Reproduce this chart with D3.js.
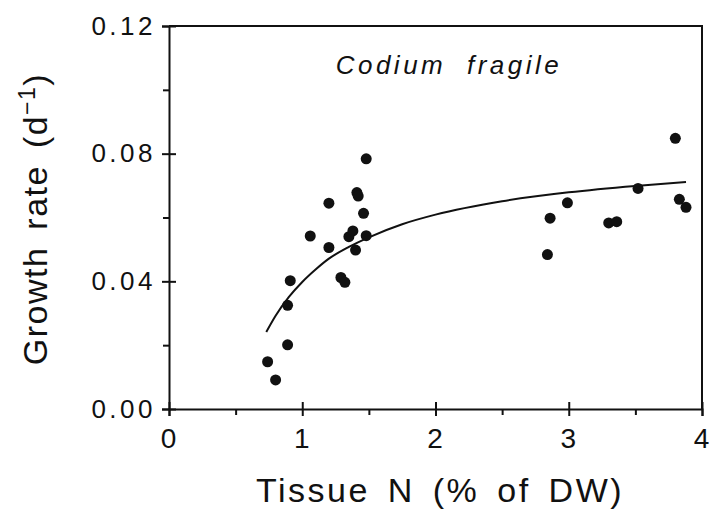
<!DOCTYPE html>
<html>
<head>
<meta charset="utf-8">
<script src="https://cdn.jsdelivr.net/npm/d3@7"></script>
<style>
  body { margin: 0; background: #fff; }
  svg { display: block; font-family: "Liberation Sans", Arial, sans-serif; }
  .axis path, .axis line { stroke: #111; stroke-width: 2; }
  .axis text { fill: #111; }
</style>
</head>
<body>
<svg width="711" height="509"></svg>
<script>
// Observed points: tissue N (% of DW) vs growth rate (d^-1)
const tissueN = [0.74, 0.80, 0.89, 0.89, 0.91, 1.06, 1.20, 1.20, 1.29, 1.32, 1.35, 1.38,
                 1.40, 1.41, 1.42, 1.46, 1.48, 1.48, 2.84, 2.86, 2.99, 3.30, 3.36, 3.52,
                 3.80, 3.83, 3.88];
const growthRate = [0.0148, 0.0091, 0.0201, 0.0325, 0.0402, 0.0542, 0.0645, 0.0506, 0.0412,
                    0.0397, 0.0540, 0.0558, 0.0498, 0.0678, 0.0667, 0.0613, 0.0543, 0.0784,
                    0.0484, 0.0598, 0.0646, 0.0583, 0.0587, 0.0691, 0.0848, 0.0657, 0.0632];

// Fitted curve
const fitN    = [0.73, 0.80, 0.90, 1.00, 1.10, 1.20, 1.35, 1.50, 1.75, 2.00, 2.50, 3.00, 3.50, 3.88];
const fitRate = [0.0241, 0.0292, 0.0351, 0.0398, 0.0437, 0.0471, 0.0508, 0.0538, 0.0579,
                 0.0609, 0.0651, 0.0679, 0.0699, 0.0711];

const xTicks = [0, 1, 2, 3, 4];
const xMinor = [0.5, 1.5, 2.5, 3.5];
const yTicks = [0, 0.04, 0.08, 0.12];
const yMinor = [0.02, 0.06, 0.10];

const plot = { left: 169, right: 702, top: 26, bottom: 409 };

const svg = d3.select("svg");

const x = d3.scaleLinear().domain([0, 4]).range([plot.left, plot.right]);
const y = d3.scaleLinear().domain([0, 0.12]).range([plot.bottom, plot.top]);

// Frame (top and right sides)
svg.append("path")
   .attr("d", `M${plot.left},${plot.top}H${plot.right}V${plot.bottom}`)
   .attr("fill", "none")
   .attr("stroke", "#111")
   .attr("stroke-width", 2);

// X axis: major ticks cross the line, minor ticks outside
const gx = svg.append("g")
   .attr("class", "axis")
   .attr("transform", `translate(0,${plot.bottom})`)
   .call(d3.axisBottom(x).tickValues(xTicks).tickSize(7).tickPadding(12).tickFormat(d3.format("d")));
gx.selectAll("text").attr("font-size", 28).attr("letter-spacing", 2);

svg.append("g")
   .attr("class", "axis")
   .attr("transform", `translate(0,${plot.bottom})`)
   .call(d3.axisBottom(x).tickValues(xTicks).tickSize(-7).tickFormat(""))
   .call(g => g.select(".domain").remove());

svg.append("g")
   .attr("class", "axis")
   .attr("transform", `translate(0,${plot.bottom})`)
   .call(d3.axisBottom(x).tickValues(xMinor).tickSize(6).tickFormat(""))
   .call(g => g.select(".domain").remove());

// Y axis
const gy = svg.append("g")
   .attr("class", "axis")
   .attr("transform", `translate(${plot.left},0)`)
   .call(d3.axisLeft(y).tickValues(yTicks).tickSize(7).tickPadding(10).tickFormat(d3.format(".2f")));
gy.selectAll("text").attr("font-size", 26).attr("letter-spacing", 3.5).attr("dx", 4);

svg.append("g")
   .attr("class", "axis")
   .attr("transform", `translate(${plot.left},0)`)
   .call(d3.axisLeft(y).tickValues(yTicks).tickSize(-7).tickFormat(""))
   .call(g => g.select(".domain").remove());

svg.append("g")
   .attr("class", "axis")
   .attr("transform", `translate(${plot.left},0)`)
   .call(d3.axisLeft(y).tickValues(yMinor).tickSize(6).tickFormat(""))
   .call(g => g.select(".domain").remove());

// Fitted curve
const line = d3.line()
   .x((d, i) => x(fitN[i]))
   .y(d => y(d))
   .curve(d3.curveMonotoneX);

svg.append("path")
   .datum(fitRate)
   .attr("d", line)
   .attr("fill", "none")
   .attr("stroke", "#111")
   .attr("stroke-width", 2);

// Points
svg.selectAll(".dot")
   .data(tissueN)
   .enter()
   .append("circle")
   .attr("class", "dot")
   .attr("cx", d => x(d))
   .attr("cy", (d, i) => y(growthRate[i]))
   .attr("r", 5.5)
   .attr("fill", "#111");

// Species label
svg.append("text")
   .attr("x", 449)
   .attr("y", 74)
   .attr("text-anchor", "middle")
   .attr("font-size", 26)
   .attr("font-style", "italic")
   .attr("letter-spacing", 3.5)
   .attr("word-spacing", 10)
   .attr("fill", "#111")
   .text("Codium fragile");

// Axis titles
svg.append("text")
   .attr("x", 440)
   .attr("y", 502)
   .attr("text-anchor", "middle")
   .attr("font-size", 34)
   .attr("letter-spacing", 2.5)
   .attr("word-spacing", 6)
   .attr("fill", "#111")
   .text("Tissue N (% of DW)");

const yTitle = svg.append("text")
   .attr("transform", "translate(47,219) rotate(-90)")
   .attr("text-anchor", "middle")
   .attr("font-size", 34)
   .attr("letter-spacing", 1.5)
   .attr("word-spacing", 6)
   .attr("fill", "#111");
yTitle.append("tspan").text("Growth rate (d");
yTitle.append("tspan").attr("font-size", 23).attr("dy", -12).text("\u22121");
yTitle.append("tspan").attr("dy", 12).text(")");
</script>
</body>
</html>
